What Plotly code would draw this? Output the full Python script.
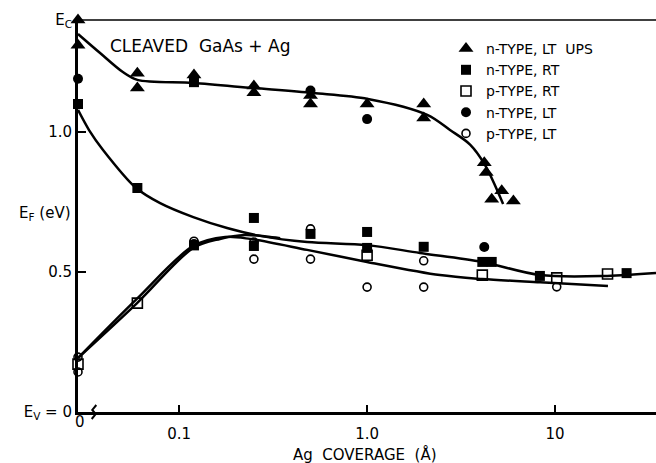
import numpy as np
import plotly.graph_objects as go

# ---------------- data (coverage in Å, energy in eV) ----------------
# Coverage 0 is drawn at the broken left end of the log axis.
ZERO_POS = 0.029

# measured points
n_lt_ups_cov = [0, 0, 0.06, 0.06, 0.12, 0.25, 0.25, 0.5, 0.5, 1.0, 2.0, 2.0, 4.2, 4.3, 4.6, 5.2, 6.0]
n_lt_ups_E   = [1.40, 1.31, 1.21, 1.157, 1.204, 1.164, 1.14, 1.13, 1.10, 1.10, 1.10, 1.05, 0.89, 0.855, 0.76, 0.79, 0.754]

n_rt_cov = [0, 0.06, 0.12, 0.12, 0.25, 0.25, 0.5, 1.0, 1.0, 2.0, 4.1, 4.6, 8.3, 24]
n_rt_E   = [1.10, 0.80, 1.178, 0.595, 0.693, 0.593, 0.636, 0.643, 0.586, 0.59, 0.536, 0.536, 0.486, 0.496]

p_rt_cov = [0, 0.06, 1.0, 4.1, 10.2, 19]
p_rt_E   = [0.171, 0.389, 0.56, 0.489, 0.479, 0.493]

n_lt_cov = [0, 0.12, 0.5, 1.0, 4.2]
n_lt_E   = [1.19, 0.60, 1.148, 1.046, 0.589]

p_lt_cov = [0, 0, 0.12, 0.25, 0.25, 0.5, 0.5, 1.0, 2.0, 2.0, 10.2]
p_lt_E   = [0.196, 0.143, 0.61, 0.607, 0.546, 0.654, 0.546, 0.446, 0.54, 0.446, 0.447]

# hand-drawn guide curves
curveA_cov = [0, 0.038, 0.050, 0.060, 0.119, 0.248, 0.516, 1.01, 2.09, 2.76, 3.53, 4.24, 5.29]
curveA_E   = [1.35, 1.282, 1.215, 1.186, 1.175, 1.157, 1.139, 1.118, 1.061, 1.007, 0.955, 0.882, 0.743]

curveB_cov = [0, 0.0332, 0.0394, 0.0591, 0.0793, 0.119, 0.180, 0.270, 0.480, 1.0, 1.91, 4.09, 8.32, 18.9, 34.4]
curveB_E   = [1.079, 1.007, 0.936, 0.800, 0.746, 0.696, 0.657, 0.629, 0.607, 0.596, 0.568, 0.536, 0.489, 0.486, 0.496]

curveC_cov = [0, 0.0598, 0.119, 0.165, 0.224, 0.290, 0.345]
curveC_E   = [0.193, 0.389, 0.586, 0.618, 0.632, 0.627, 0.621]

curveD_cov = [0, 0.0598, 0.119, 0.176, 0.239, 0.480, 1.0, 2.44, 4.09, 8.32, 19.1]
curveD_E   = [0.193, 0.405, 0.593, 0.625, 0.618, 0.579, 0.536, 0.489, 0.475, 0.463, 0.450]

x_tick_vals = [0.1, 1.0, 10]
x_tick_text = ["0.1", "1.0", "10"]
E_C = 1.40
y_tick_vals = [0, 0.5, 1.0, E_C]
y_tick_text = ["E<sub>V</sub> = 0", "0.5", "1.0", "E<sub>C</sub>"]


def xpos(c):
    return [ZERO_POS if v == 0 else v for v in c]


FONT = "DejaVu Sans"
fig = go.Figure()

for cx, cy in [(curveA_cov, curveA_E), (curveB_cov, curveB_E),
               (curveC_cov, curveC_E), (curveD_cov, curveD_E)]:
    fig.add_trace(go.Scatter(x=xpos(cx), y=cy, mode="lines", showlegend=False,
                             line=dict(color="black", width=2.5, shape="spline", smoothing=0.9),
                             hoverinfo="skip", cliponaxis=False))

series = [
    ("n-TYPE, LT  UPS", n_lt_ups_cov, n_lt_ups_E, dict(symbol="triangle-up", size=13, color="black")),
    ("n-TYPE, RT", n_rt_cov, n_rt_E, dict(symbol="square", size=10, color="black")),
    ("p-TYPE, RT", p_rt_cov, p_rt_E, dict(symbol="square-open", size=10, color="black", line=dict(width=1.6, color="black"))),
    ("n-TYPE, LT", n_lt_cov, n_lt_E, dict(symbol="circle", size=10, color="black")),
    ("p-TYPE, LT", p_lt_cov, p_lt_E, dict(symbol="circle-open", size=8, color="black", line=dict(width=1.6, color="black"))),
]
for name, cx, cy, mk in series:
    fig.add_trace(go.Scatter(x=xpos(cx), y=cy, mode="markers", name=name,
                             marker=mk, cliponaxis=False))

W, H = 656, 463
L, R, T, B = 78, 0, 20, 51
pw, ph = W - L - R, H - T - B


def px2paper(px, py):
    return (px - L) / pw, (H - B - py) / ph


fig.update_layout(
    width=W, height=H,
    margin=dict(l=L, r=R, t=T, b=B),
    paper_bgcolor="white", plot_bgcolor="white",
    font=dict(family=FONT, size=15, color="black"),
    showlegend=True,
    legend=dict(x=px2paper(446, 0)[0], y=px2paper(0, 33)[1], xanchor="left", yanchor="top",
                bgcolor="rgba(0,0,0,0)", borderwidth=0, font=dict(size=14, family=FONT),
                itemsizing="trace", tracegroupgap=0, itemwidth=30),
    xaxis=dict(type="log", range=[np.log10(ZERO_POS), np.log10(34.4)],
               tickvals=x_tick_vals, ticktext=x_tick_text,
               ticks="inside", ticklen=7, tickwidth=1.5, tickcolor="black",
               showline=True, linewidth=2.5, linecolor="black",
               showgrid=False, zeroline=False, ticklabelstandoff=6,
               tickfont=dict(size=15)),
    yaxis=dict(range=[0, E_C], tickvals=y_tick_vals, ticktext=y_tick_text,
               ticks="inside", ticklen=8, tickwidth=1.5, tickcolor="black",
               showline=True, linewidth=3, linecolor="black",
               showgrid=False, zeroline=False, tickfont=dict(size=15)),
)

# top frame line at E_C
fig.add_shape(type="line", xref="paper", yref="paper", x0=0, x1=1, y0=1, y1=1,
              line=dict(color="black", width=1.5))

# axis-break squiggle on the x axis
bx, _ = px2paper(94, 0)
_, dy = px2paper(0, 412 - 7)
fig.add_shape(type="path", xref="paper", yref="paper",
              path=f"M {bx-0.004},{-dy} L {bx+0.003},{-dy*0.3} L {bx-0.003},{dy*0.3} L {bx+0.004},{dy}",
              line=dict(color="black", width=2))

ax, ay = px2paper(80, 422)
tx, ty = px2paper(365, 454)
lx, ly = px2paper(45, 213)
cx_, cy_ = px2paper(108, 46)
fig.add_annotation(x=ax, y=ay, xref="paper", yref="paper", text="0", showarrow=False,
                   font=dict(size=15), xanchor="center", yanchor="middle")
fig.add_annotation(x=tx, y=ty, xref="paper", yref="paper", text="Ag  COVERAGE  (Å)",
                   showarrow=False, font=dict(size=15), xanchor="center", yanchor="middle")
fig.add_annotation(x=lx, y=ly, xref="paper", yref="paper", text="E<sub>F</sub> (eV)",
                   showarrow=False, font=dict(size=15), xanchor="center", yanchor="middle")
fig.add_annotation(x=cx_, y=cy_, xref="paper", yref="paper", text="CLEAVED  GaAs + Ag",
                   showarrow=False, font=dict(size=17), xanchor="left", yanchor="middle")

fig.write_html("out.html")
